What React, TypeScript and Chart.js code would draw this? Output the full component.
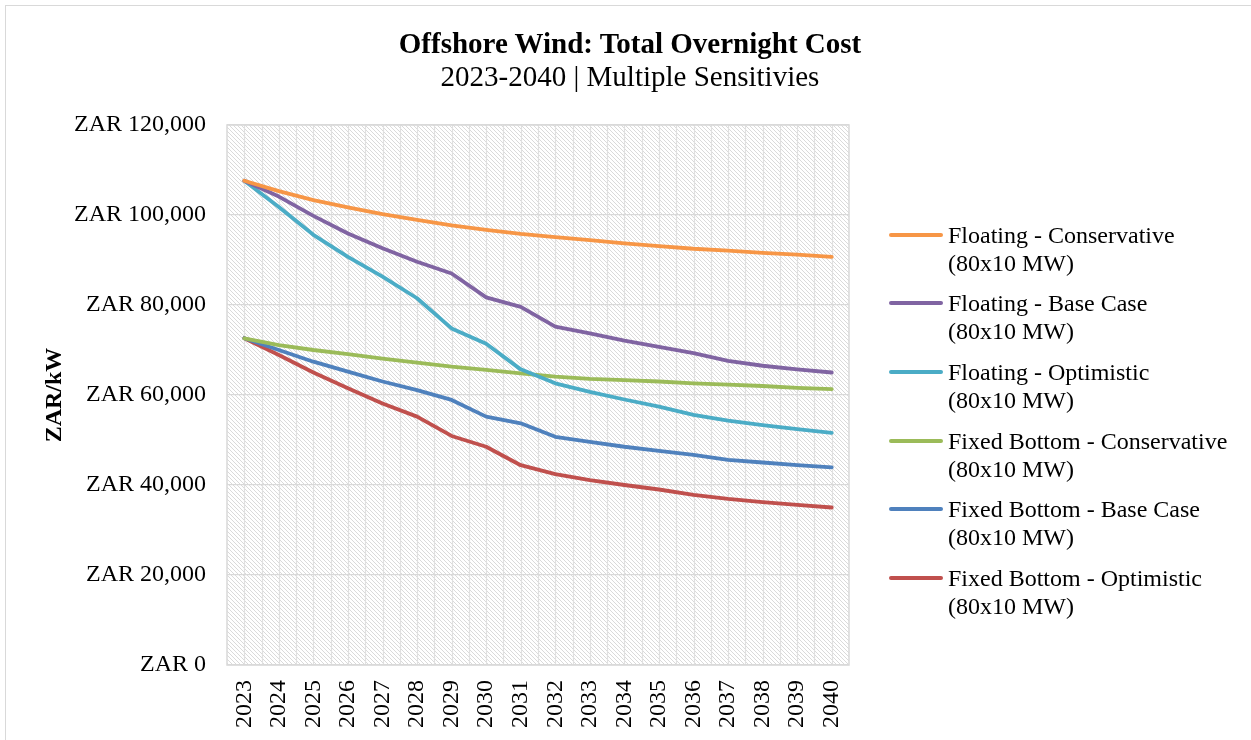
import React, { useEffect, useRef } from "react";
import { Chart, registerables } from "chart.js";

Chart.register(...registerables);

const years = ["2023","2024","2025","2026","2027","2028","2029","2030","2031","2032","2033","2034","2035","2036","2037","2038","2039","2040"];

const floatingConservative = [107600,105300,103300,101700,100200,98900,97700,96700,95800,95100,94400,93700,93100,92500,92100,91600,91200,90700];
const floatingBase = [107600,104100,99800,95900,92600,89600,87000,81700,79600,75200,73700,72100,70700,69300,67600,66500,65700,65000];
const floatingOptimistic = [107600,101800,95600,90700,86300,81500,74800,71400,65700,62600,60700,59000,57400,55600,54300,53300,52400,51600];
const fixedConservative = [72600,71100,70000,69100,68100,67200,66300,65600,64800,64100,63600,63300,63000,62600,62300,62000,61600,61300];
const fixedBase = [72600,70000,67400,65200,63000,61100,58900,55200,53700,50700,49600,48500,47600,46700,45600,45000,44400,43900];
const fixedOptimistic = [72600,68900,65000,61500,58100,55200,50900,48500,44400,42400,41100,40000,39000,37800,36900,36200,35600,35000];

const titleText = "Offshore Wind: Total Overnight Cost";
const subtitleText = "2023-2040 | Multiple Sensitivies";

const seriesLabels = [
  ["Floating - Conservative", "(80x10 MW)"],
  ["Floating - Base Case", "(80x10 MW)"],
  ["Floating - Optimistic", "(80x10 MW)"],
  ["Fixed Bottom - Conservative", "(80x10 MW)"],
  ["Fixed Bottom - Base Case", "(80x10 MW)"],
  ["Fixed Bottom - Optimistic", "(80x10 MW)"],
];
const seriesValues = [floatingConservative, floatingBase, floatingOptimistic, fixedConservative, fixedBase, fixedOptimistic];
const seriesColors = ["#F79646", "#8064A2", "#4BACC6", "#9BBB59", "#4F81BD", "#C0504D"];

const FONT = "'Liberation Serif', 'Times New Roman', serif";

const bgPlugin = {
  id: "bgHatch",
  beforeDraw(chart: any) {
    const { ctx, chartArea: a, scales } = chart;
    if (!a) return;
    const pc = document.createElement("canvas");
    pc.width = 4;
    pc.height = 4;
    const p = pc.getContext("2d")!;
    p.fillStyle = "#ffffff";
    p.fillRect(0, 0, 4, 4);
    p.fillStyle = "#dadada";
    for (let i = 0; i < 4; i++) p.fillRect(i, i, 1, 1);
    const pat = ctx.createPattern(pc, "repeat");
    ctx.save();
    ctx.fillStyle = pat;
    ctx.fillRect(a.left, a.top, a.width, a.height);
    const xs = scales.x;
    const n = years.length;
    const half = (xs.getPixelForValue(1) - xs.getPixelForValue(0)) / 2;
    ctx.strokeStyle = "#e0e0e0";
    ctx.lineWidth = 1.2;
    ctx.beginPath();
    for (let i = 0; i < n; i++) {
      const c = Math.round(xs.getPixelForValue(i)) + 0.5;
      const b = Math.round(xs.getPixelForValue(i) - half) + 0.5;
      ctx.moveTo(c, a.top);
      ctx.lineTo(c, a.bottom);
      if (i > 0) {
        ctx.moveTo(b, a.top);
        ctx.lineTo(b, a.bottom);
      }
    }
    ctx.stroke();
    ctx.restore();
  },
  beforeDatasetsDraw(chart: any) {
    const { ctx, chartArea: a } = chart;
    ctx.save();
    ctx.strokeStyle = "#d9d9d9";
    ctx.lineWidth = 1.5;
    ctx.strokeRect(a.left, a.top, a.width, a.height);
    ctx.restore();
  },
};

export default function App() {
  const ref = useRef<HTMLCanvasElement | null>(null);

  useEffect(() => {
    document.body.style.margin = "0";
    const canvas = ref.current;
    if (!canvas) return;
    const chart = new Chart(canvas, {
      type: "line",
      data: {
        labels: years,
        datasets: seriesValues.map((v, i) => ({
          label: seriesLabels[i].join(" "),
          data: v,
          borderColor: seriesColors[i],
          backgroundColor: seriesColors[i],
          borderWidth: 3.8,
          pointRadius: 0,
          tension: 0,
          borderJoinStyle: "round" as const,
          borderCapStyle: "round" as const,
          fill: false,
        })),
      },
      options: {
        responsive: false,
        animation: false,
        layout: { padding: { left: 40, right: 402, top: 125, bottom: 0 } },
        plugins: {
          legend: { display: false },
          tooltip: { enabled: false },
          title: { display: false },
        },
        scales: {
          x: {
            type: "category",
            offset: true,
            grid: { display: false, drawTicks: false },
            border: { display: false },
            ticks: {
              color: "#000",
              font: { family: FONT, size: 24 },
              minRotation: 90,
              maxRotation: 90,
              padding: 15,
              autoSkip: false,
            },
            afterFit(scale: any) {
              scale.height = 75;
            },
          },
          y: {
            min: 0,
            max: 120000,
            grid: { color: "#d9d9d9", lineWidth: 1.2, drawTicks: false },
            border: { display: false },
            ticks: {
              stepSize: 20000,
              color: "#000",
              padding: 21,
              font: { family: FONT, size: 24 },
              callback: (v: any) => "ZAR " + Number(v).toLocaleString("en-US"),
            },
            title: {
              display: true,
              text: "ZAR/kW",
              color: "#000",
              font: { family: FONT, size: 24, weight: "bold" },
              padding: { top: 0, bottom: 0 },
            },
            afterFit(scale: any) {
              scale.width = 187;
            },
          },
        },
      },
      plugins: [bgPlugin],
    });
    return () => chart.destroy();
  }, []);

  return (
    <div style={{ position: "fixed", left: 0, top: 0, width: 1251, height: 740, background: "#fff", overflow: "hidden" }}>
      <div
        style={{
          position: "absolute",
          left: 5,
          top: 5,
          width: 1260,
          height: 760,
          borderLeft: "1.5px solid #d9d9d9",
          borderTop: "1.5px solid #d9d9d9",
          boxSizing: "border-box",
        }}
      />
      <canvas ref={ref} width={1251} height={740} style={{ position: "absolute", left: 0, top: 0, width: 1251, height: 740 }} />
      <div
        style={{
          position: "absolute",
          left: 330,
          width: 600,
          top: 28,
          textAlign: "center",
          fontFamily: FONT,
          fontSize: 29,
          fontWeight: "bold",
          lineHeight: "30px",
          color: "#000",
          whiteSpace: "nowrap",
        }}
      >
        {titleText}
      </div>
      <div
        style={{
          position: "absolute",
          left: 330,
          width: 600,
          top: 61,
          textAlign: "center",
          fontFamily: FONT,
          fontSize: 29,
          lineHeight: "30px",
          color: "#000",
          whiteSpace: "nowrap",
        }}
      >
        {subtitleText}
      </div>
      {seriesLabels.map((lines, i) => {
        const cy = 234.5 + i * 68.7;
        return (
          <div key={i}>
            <div
              style={{
                position: "absolute",
                left: 889,
                top: cy - 2,
                width: 54,
                height: 4,
                borderRadius: 2,
                background: seriesColors[i],
              }}
            />
            <div
              style={{
                position: "absolute",
                left: 948,
                top: cy - 14,
                fontFamily: FONT,
                fontSize: 24,
                lineHeight: "28px",
                color: "#000",
                whiteSpace: "nowrap",
              }}
            >
              {lines[0]}
              <br />
              {lines[1]}
            </div>
          </div>
        );
      })}
    </div>
  );
}
